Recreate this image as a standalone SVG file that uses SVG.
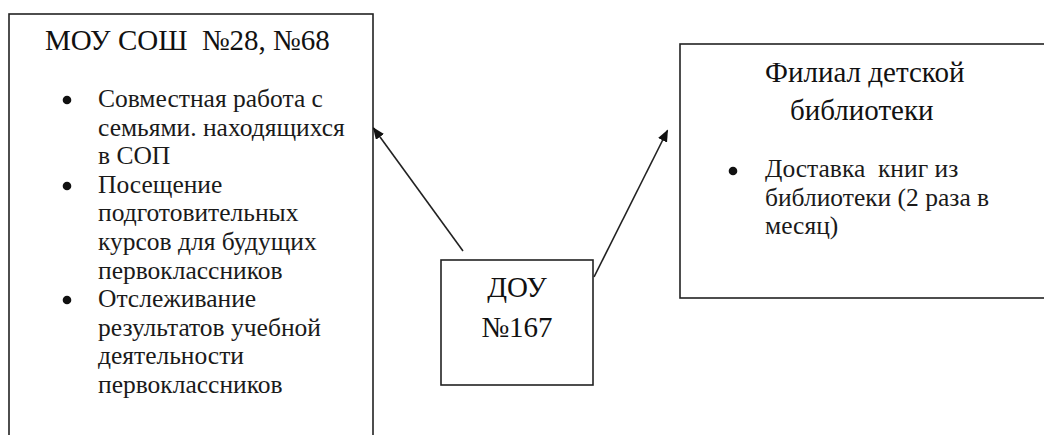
<svg xmlns="http://www.w3.org/2000/svg" width="1044" height="435" viewBox="0 0 1044 435">
  <style>
    .box { fill: #ffffff; stroke: #222222; stroke-width: 1.6; }
    .title { font-family: 'Liberation Serif', 'Times New Roman', serif; font-size: 29px; fill: #111111; white-space: pre; }
    .body { font-family: 'Liberation Serif', 'Times New Roman', serif; font-size: 25.5px; fill: #1a1a1a; white-space: pre; }
    .bullet { fill: #111111; }
    .conn { stroke: #222222; stroke-width: 1.6; fill: none; }
  </style>
  <defs>
    <marker id="arrow" viewBox="0 0 12 10" refX="11" refY="5" markerWidth="12" markerHeight="10" markerUnits="userSpaceOnUse" orient="auto">
      <path d="M0,0 L12,5 L0,10 Z" fill="#111111"/>
    </marker>
  </defs>
  <rect width="1044" height="435" fill="#ffffff"/>

  <g id="node-mou-sosh">
    <rect class="box" x="9" y="14" width="364" height="440"/>
    <text class="title" x="45" y="50">МОУ СОШ  №28, №68</text>
    <circle class="bullet" cx="67" cy="100" r="4.3"/>
    <circle class="bullet" cx="67" cy="186" r="4.3"/>
    <circle class="bullet" cx="67" cy="300" r="4.3"/>
    <text class="body">
      <tspan x="98" y="107">Совместная работа с</tspan>
      <tspan x="98" y="135.6">семьями. находящихся</tspan>
      <tspan x="98" y="164.2">в СОП</tspan>
      <tspan x="98" y="192.8">Посещение</tspan>
      <tspan x="98" y="221.4">подготовительных</tspan>
      <tspan x="98" y="250">курсов для будущих</tspan>
      <tspan x="98" y="278.6">первоклассников</tspan>
      <tspan x="98" y="307.2">Отслеживание</tspan>
      <tspan x="98" y="335.8">результатов учебной</tspan>
      <tspan x="98" y="364.4">деятельности</tspan>
      <tspan x="98" y="393">первоклассников</tspan>
    </text>
  </g>

  <g id="node-filial">
    <rect class="box" x="680" y="44" width="380" height="254"/>
    <text class="title" x="765" y="82">Филиал детской</text>
    <text class="title" x="790" y="120">библиотеки</text>
    <circle class="bullet" cx="733" cy="171" r="4.3"/>
    <text class="body"><tspan x="765" y="177">Доставка  книг из</tspan><tspan x="765" y="205.5">библиотеки (2 раза в</tspan><tspan x="765" y="234">месяц)</tspan></text>
  </g>

  <g id="node-dou">
    <rect class="box" x="441" y="260" width="152" height="125"/>
    <text class="title" x="517" y="297" text-anchor="middle" font-size="28">ДОУ</text>
    <text class="title" x="517" y="337" text-anchor="middle" font-size="28">№167</text>
  </g>

  <g id="connectors">
    <line class="conn" x1="463" y1="251" x2="373.5" y2="128" marker-end="url(#arrow)"/>
    <line class="conn" x1="594" y1="277" x2="667.5" y2="130.5" marker-end="url(#arrow)"/>
  </g>
</svg>
